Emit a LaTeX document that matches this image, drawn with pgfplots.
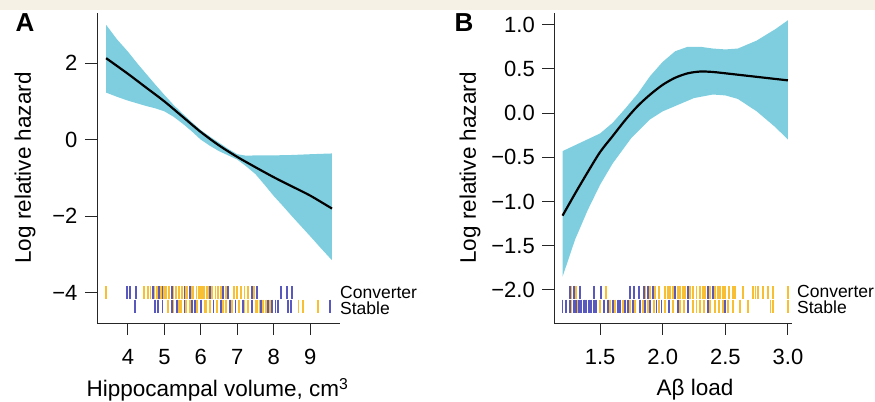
\documentclass[border=0pt]{standalone}
\usepackage{fontspec}
\setmainfont{Liberation Sans}
\usepackage{pgfplots}
\pgfplotsset{compat=1.18}
\definecolor{band}{RGB}{126,206,223}
\definecolor{ryel}{RGB}{248,190,52}
\definecolor{rblu}{RGB}{88,88,190}
\definecolor{beige}{RGB}{245,242,229}
\newcommand{\tfont}{\fontsize{22bp}{26bp}\selectfont}
\newcommand{\lfont}{\fontsize{22.5bp}{26bp}\selectfont}
\newcommand{\rfont}{\fontsize{17.5bp}{15bp}\selectfont}
\pgfplotsset{
  rstyle/.style={
    scale only axis, clip=false,
    axis x line*=bottom, axis y line*=left,
    axis line style={line width=1pt, black!85},
    tick align=outside, tick pos=left,
    major tick length=12bp,
    major tick style={line width=1pt, black!85},
    tick label style={font=\tfont},
    xticklabel style={yshift=-11bp},
    yticklabel style={xshift=-4bp},
    label style={font=\lfont},
  },
  rugA/.style={only marks, mark=|, mark size=6.6bp, mark options={line width=1.8pt}},
}
\begin{document}
\begin{tikzpicture}
\path[use as bounding box] (0,0) rectangle (875bp,402bp);
\fill[beige] (0,392bp) rectangle (875bp,402bp);
\node[font=\fontsize{26bp}{28bp}\selectfont\bfseries] at (25bp,379bp) {A};
\node[font=\fontsize{26bp}{28bp}\selectfont\bfseries] at (464bp,379bp) {B};
% ---------------- Panel A
\begin{axis}[rstyle, at={(97bp,79bp)}, anchor=south west,
  width=243bp, height=310bp,
  xmin=3.15, xmax=9.82, ymin=-4.79, ymax=3.31,
  xtick={4,5,6,7,8,9}, xticklabels={4,5,6,7,8,9},
  ytick={-4,-2,0,2}, yticklabels={−4,−2,0,2},
  xlabel={Hippocampal volume, cm\textsuperscript{3}},
  ylabel={Log relative hazard},
  xlabel style={at={(axis description cs:0.496,-0.215)}, anchor=center},
  ylabel style={at={(axis description cs:-0.296,0.5)}, anchor=center},
]
% confidence band: upper edge left to right, lower edge right to left
\addplot[fill=band, draw=none] coordinates {(3.4,3.0)(3.7,2.62)(4,2.3)(4.25,2.0)(4.5,1.72)(4.75,1.44)(5,1.17)(5.25,0.91)(5.5,0.68)(5.75,0.46)(6,0.25)(6.25,0.08)(6.5,-0.08)(6.75,-0.24)(7,-0.38)(7.25,-0.42)(7.5,-0.41)(8,-0.41)(8.5,-0.40)(9,-0.38)(9.6,-0.36)
 (9.6,-3.15)(9.3,-2.84)(9,-2.52)(8.75,-2.26)(8.5,-2.0)(8.25,-1.73)(8,-1.47)(7.75,-1.18)(7.5,-0.9)(7.25,-0.7)(7,-0.52)(6.75,-0.41)(6.5,-0.3)(6.25,-0.16)(6,0.0)(5.75,0.22)(5.5,0.42)(5.25,0.6)(5,0.74)(4.75,0.82)(4.5,0.88)(4.25,0.95)(4,1.02)(3.7,1.12)(3.4,1.23)} -- cycle;
\addplot[black, line width=2.2pt, smooth] coordinates {(3.4,2.13)(4,1.72)(4.5,1.36)(5,1.0)(5.5,0.6)(6,0.2)(6.5,-0.15)(7,-0.45)(7.5,-0.72)(8,-0.98)(8.5,-1.22)(9,-1.46)(9.6,-1.8)};
% rug: converters
\addplot[rugA, color=ryel] coordinates {(3.40,-4.0)(4.45,-4.0)(4.55,-4.0)(4.62,-4.0)(4.72,-4.0)(4.80,-4.0)(4.90,-4.0)(4.98,-4.0)(5.05,-4.0)(5.12,-4.0)(5.25,-4.0)(5.32,-4.0)(5.40,-4.0)(5.48,-4.0)(5.58,-4.0)(5.62,-4.0)(5.75,-4.0)(5.80,-4.0)(5.88,-4.0)(5.95,-4.0)(6.00,-4.0)(6.05,-4.0)(6.10,-4.0)(6.16,-4.0)(6.20,-4.0)(6.30,-4.0)(6.40,-4.0)(6.48,-4.0)(6.55,-4.0)(6.70,-4.0)(6.90,-4.0)(7.00,-4.0)(7.10,-4.0)(7.20,-4.0)(7.30,-4.0)(7.45,-4.0)};
\addplot[rugA, color=rblu] coordinates {(3.98,-4.0)(4.06,-4.0)(4.22,-4.0)(4.68,-4.0)(4.85,-4.0)(4.95,-4.0)(5.20,-4.0)(5.55,-4.0)(5.70,-4.0)(6.25,-4.0)(6.60,-4.0)(6.75,-4.0)(7.40,-4.0)(7.55,-4.0)(8.20,-4.0)(8.37,-4.0)(8.50,-4.0)};
% rug: stable
\addplot[rugA, color=ryel] coordinates {(5.10,-4.35)(5.25,-4.35)(5.40,-4.35)(5.45,-4.35)(5.60,-4.35)(5.70,-4.35)(5.90,-4.35)(6.10,-4.35)(6.15,-4.35)(6.25,-4.35)(6.45,-4.35)(6.60,-4.35)(6.70,-4.35)(6.85,-4.35)(7.05,-4.35)(7.20,-4.35)(7.30,-4.35)(7.50,-4.35)(7.55,-4.35)(7.63,-4.35)(7.70,-4.35)(7.78,-4.35)(7.90,-4.35)(8.68,-4.35)(8.80,-4.35)(9.22,-4.35)};
\addplot[rugA, color=rblu] coordinates {(4.19,-4.35)(4.74,-4.35)(4.82,-4.35)(4.95,-4.35)(5.20,-4.35)(5.35,-4.35)(5.55,-4.35)(5.75,-4.35)(5.85,-4.35)(6.00,-4.35)(6.35,-4.35)(6.55,-4.35)(6.80,-4.35)(6.95,-4.35)(7.15,-4.35)(7.40,-4.35)(7.66,-4.35)(7.85,-4.35)(7.95,-4.35)(8.05,-4.35)(8.12,-4.35)(8.40,-4.35)(8.48,-4.35)(9.55,-4.35)};
\node[font=\rfont, anchor=west, inner sep=0pt] at (axis cs:9.82,-3.98) {Converter};
\node[font=\rfont, anchor=west, inner sep=0pt] at (axis cs:9.82,-4.40) {Stable};
\end{axis}
% ---------------- Panel B
\begin{axis}[rstyle, at={(554.3bp,79bp)}, anchor=south west,
  width=237.4bp, height=310bp,
  xmin=1.134, xmax=3.03, ymin=-2.374, ymax=1.132,
  xtick={1.5,2.0,2.5,3.0}, xticklabels={1.5,2.0,2.5,3.0},
  ytick={-2,-1.5,-1,-0.5,0,0.5,1},
  yticklabels={−2.0,−1.5,−1.0,−0.5,0.0,0.5,1.0},
  xlabel={Aβ load},
  ylabel={Log relative hazard},
  xlabel style={at={(axis description cs:0.593,-0.215)}, anchor=center},
  ylabel style={at={(axis description cs:-0.355,0.5)}, anchor=center},
]
\addplot[fill=band, draw=none] coordinates {(1.2,-0.43)(1.35,-0.33)(1.5,-0.23)(1.6,-0.11)(1.7,0.05)(1.8,0.22)(1.9,0.42)(2.0,0.58)(2.1,0.70)(2.2,0.75)(2.3,0.75)(2.4,0.73)(2.5,0.72)(2.6,0.73)(2.75,0.82)(2.9,0.95)(3.0,1.05)
 (3.0,-0.3)(2.9,-0.16)(2.75,0.02)(2.6,0.16)(2.5,0.2)(2.4,0.21)(2.25,0.17)(2.1,0.08)(2.0,0.02)(1.9,-0.07)(1.75,-0.28)(1.6,-0.57)(1.5,-0.81)(1.4,-1.1)(1.3,-1.43)(1.2,-1.85)} -- cycle;
\addplot[black, line width=2.2pt, smooth] coordinates {(1.2,-1.16)(1.3,-0.91)(1.4,-0.67)(1.5,-0.44)(1.6,-0.26)(1.7,-0.08)(1.8,0.08)(1.9,0.21)(2.0,0.32)(2.1,0.40)(2.2,0.45)(2.3,0.47)(2.4,0.465)(2.5,0.45)(2.75,0.41)(3.0,0.37)};
% rug: converters
\addplot[rugA, color=ryel] coordinates {(1.27,-2.03)(1.31,-2.03)(1.55,-2.03)(1.86,-2.03)(1.90,-2.03)(1.94,-2.03)(1.97,-2.03)(2.02,-2.03)(2.04,-2.03)(2.06,-2.03)(2.08,-2.03)(2.12,-2.03)(2.14,-2.03)(2.16,-2.03)(2.18,-2.03)(2.22,-2.03)(2.24,-2.03)(2.27,-2.03)(2.30,-2.03)(2.32,-2.03)(2.34,-2.03)(2.38,-2.03)(2.42,-2.03)(2.44,-2.03)(2.46,-2.03)(2.48,-2.03)(2.50,-2.03)(2.53,-2.03)(2.56,-2.03)(2.58,-2.03)(2.64,-2.03)(2.72,-2.03)(2.74,-2.03)(2.76,-2.03)(2.80,-2.03)(2.84,-2.03)(2.88,-2.03)(3.00,-2.03)};
\addplot[rugA, color=rblu] coordinates {(1.26,-2.03)(1.29,-2.03)(1.34,-2.03)(1.45,-2.03)(1.51,-2.03)(1.74,-2.03)(1.77,-2.03)(1.81,-2.03)(1.85,-2.03)(1.88,-2.03)(1.92,-2.03)(2.10,-2.03)(2.20,-2.03)(2.36,-2.03)(2.40,-2.03)};
% rug: stable
\addplot[rugA, color=ryel] coordinates {(1.27,-2.185)(1.32,-2.185)(1.38,-2.185)(1.50,-2.185)(1.58,-2.185)(1.62,-2.185)(1.68,-2.185)(1.74,-2.185)(1.78,-2.185)(1.84,-2.185)(1.88,-2.185)(1.93,-2.185)(1.97,-2.185)(2.02,-2.185)(2.08,-2.185)(2.14,-2.185)(2.17,-2.185)(2.24,-2.185)(2.27,-2.185)(2.30,-2.185)(2.33,-2.185)(2.38,-2.185)(2.42,-2.185)(2.45,-2.185)(2.48,-2.185)(2.52,-2.185)(2.56,-2.185)(2.62,-2.185)(2.68,-2.185)(2.86,-2.185)(2.88,-2.185)(3.00,-2.185)};
\addplot[rugA, color=rblu] coordinates {(1.20,-2.185)(1.23,-2.185)(1.26,-2.185)(1.29,-2.185)(1.31,-2.185)(1.33,-2.185)(1.35,-2.185)(1.37,-2.185)(1.39,-2.185)(1.41,-2.185)(1.43,-2.185)(1.45,-2.185)(1.47,-2.185)(1.53,-2.185)(1.56,-2.185)(1.60,-2.185)(1.64,-2.185)(1.66,-2.185)(1.70,-2.185)(1.72,-2.185)(1.76,-2.185)(1.82,-2.185)(1.86,-2.185)(1.90,-2.185)(1.95,-2.185)(1.99,-2.185)(2.05,-2.185)(2.12,-2.185)(2.20,-2.185)(2.36,-2.185)(2.50,-2.185)};
\node[font=\rfont, anchor=west, inner sep=0pt] at (axis cs:3.072,-2.02) {Converter};
\node[font=\rfont, anchor=west, inner sep=0pt] at (axis cs:3.072,-2.20) {Stable};
\end{axis}
\end{tikzpicture}
\end{document}
